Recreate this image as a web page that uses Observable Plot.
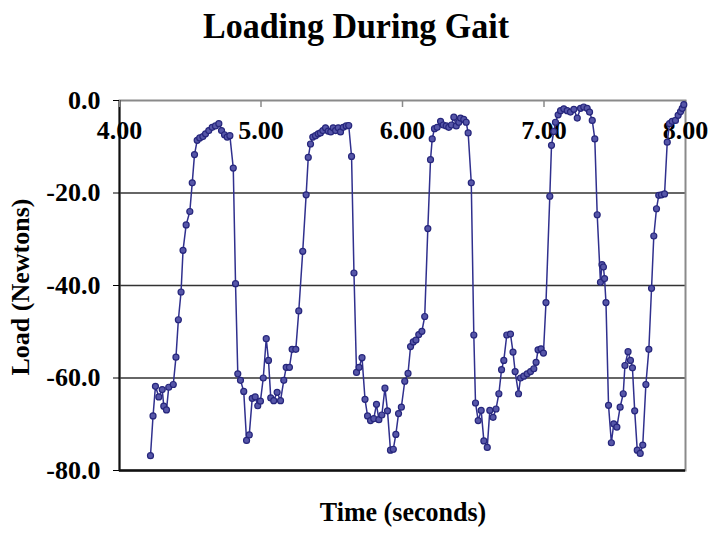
<!DOCTYPE html>
<html>
<head>
<meta charset="utf-8">
<script src="https://cdn.jsdelivr.net/npm/d3@7"></script>
<script src="https://cdn.jsdelivr.net/npm/@observablehq/plot@0.6"></script>
<style>
  html, body { margin: 0; padding: 0; background: #fff; }
  #wrap { position: relative; width: 716px; height: 536px; font-family: "Liberation Serif", "Times New Roman", serif; font-weight: bold; color: #000; }
  .lbl { position: absolute; white-space: nowrap; line-height: 1; transform: translate(-50%, -50%); }
  #title { left: 356px; top: 26px; font-size: 34px; transform: translate(-50%, -50%) scaleY(1.05); }
  #xlabel { left: 403px; top: 513px; font-size: 26px; transform: translate(-50%, -50%) scaleY(1.05); }
  #ylabel { left: 21px; top: 287px; font-size: 26px; transform: translate(-50%, -50%) rotate(-90deg) scaleY(1.0); }
  #chart { position: absolute; left: 0; top: 0; }
</style>
</head>
<body>
<div id="wrap">
  <div id="chart"></div>
  <div class="lbl" id="title">Loading During Gait</div>
  <div class="lbl" id="xlabel">Time (seconds)</div>
  <div class="lbl" id="ylabel">Load (Newtons)</div>
</div>
<script>
const title = "Loading During Gait";
const xTicks = [4, 5, 6, 7, 8];
const yTicks = [0, -20, -40, -60, -80];
const gridValues = [-20, -40, -60];

const time = [
  4.219, 4.237, 4.254, 4.278, 4.302, 4.313, 4.332, 4.348, 4.380, 4.399,
  4.416, 4.435, 4.449, 4.471, 4.497, 4.514, 4.530, 4.549, 4.567, 4.589,
  4.608, 4.631, 4.655, 4.678, 4.702, 4.721, 4.742, 4.761, 4.780, 4.804,
  4.820, 4.836, 4.855, 4.878, 4.898, 4.917, 4.938, 4.959, 4.977, 4.996,
  5.016, 5.037, 5.053, 5.069, 5.090, 5.114, 5.138, 5.161, 5.178, 5.201,
  5.220, 5.246, 5.267, 5.295, 5.319, 5.334, 5.350, 5.366, 5.385, 5.404,
  5.420, 5.437, 5.456, 5.475, 5.493, 5.510, 5.527, 5.546, 5.562, 5.581,
  5.602, 5.620, 5.640, 5.657, 5.675, 5.693, 5.714, 5.735, 5.753, 5.774,
  5.797, 5.816, 5.833, 5.854, 5.876, 5.894, 5.915, 5.935, 5.953, 5.972,
  5.992, 6.016, 6.039, 6.057, 6.076, 6.095, 6.115, 6.137, 6.157, 6.179,
  6.198, 6.210, 6.226, 6.245, 6.269, 6.288, 6.309, 6.327, 6.346, 6.363,
  6.380, 6.398, 6.410, 6.433, 6.450, 6.464, 6.486, 6.504, 6.516, 6.535,
  6.556, 6.575, 6.599, 6.617, 6.640, 6.661, 6.681, 6.700, 6.716, 6.737,
  6.763, 6.781, 6.796, 6.820, 6.834, 6.857, 6.881, 6.905, 6.928, 6.944,
  6.958, 6.979, 6.996, 7.014, 7.041, 7.053, 7.069, 7.081, 7.100, 7.117,
  7.140, 7.164, 7.187, 7.211, 7.235, 7.258, 7.281, 7.305, 7.322, 7.341,
  7.359, 7.376, 7.399, 7.410, 7.420, 7.428, 7.438, 7.456, 7.476, 7.493,
  7.515, 7.538, 7.560, 7.572, 7.594, 7.611, 7.625, 7.641, 7.659, 7.680,
  7.698, 7.720, 7.741, 7.760, 7.776, 7.795, 7.811, 7.830, 7.852, 7.871,
  7.887, 7.906, 7.929, 7.948, 7.965, 7.977, 7.988
];
const load = [
  -76.8, -68.2, -61.8, -64.1, -62.5, -66.1, -66.9, -62.0, -61.4, -55.5,
  -47.4, -41.4, -32.4, -26.9, -24.0, -17.8, -11.7, -8.6, -8.1, -7.8,
  -7.2, -6.5, -5.8, -5.5, -5.0, -6.5, -7.4, -7.9, -7.6, -14.6,
  -39.6, -59.1, -60.5, -62.9, -73.5, -72.3, -64.4, -64.1, -66.0, -65.0,
  -60.0, -51.5, -56.2, -64.3, -64.9, -63.1, -64.9, -60.5, -57.7, -57.7,
  -53.8, -53.8, -45.5, -32.6, -20.4, -12.3, -9.4, -7.9, -7.6, -7.2,
  -7.0, -6.5, -5.9, -6.6, -6.8, -5.9, -6.5, -5.9, -6.8, -5.8,
  -5.5, -5.4, -12.1, -37.3, -58.8, -57.7, -55.6, -64.6, -68.2, -69.2,
  -68.8, -65.7, -69.0, -68.0, -62.2, -67.1, -75.6, -75.4, -72.2, -67.7,
  -66.3, -60.7, -59.0, -53.2, -52.2, -51.8, -50.6, -49.9, -46.7, -27.7,
  -12.8, -8.3, -6.1, -5.8, -4.5, -5.3, -5.5, -5.8, -5.3, -3.6,
  -5.5, -4.7, -3.8, -4.1, -4.7, -7.0, -17.8, -50.7, -65.4, -69.2,
  -67.0, -73.6, -75.0, -67.0, -68.5, -66.7, -63.4, -58.2, -56.2, -50.7,
  -50.5, -54.4, -58.6, -63.4, -60.0, -59.6, -59.1, -58.6, -58.0, -56.6,
  -53.9, -53.7, -54.6, -43.7, -20.7, -9.7, -6.7, -4.7, -3.1, -2.2,
  -1.8, -2.2, -2.5, -1.9, -3.8, -1.7, -1.4, -1.7, -2.5, -4.3,
  -8.3, -24.7, -39.3, -35.5, -36.0, -38.5, -43.7, -65.9, -74.0, -69.9,
  -70.6, -66.3, -63.4, -57.3, -54.3, -56.2, -57.8, -67.1, -75.6, -76.3,
  -74.5, -61.4, -53.8, -40.6, -29.3, -23.4, -20.5, -20.4, -20.2, -9.0,
  -5.0, -4.5, -4.3, -3.2, -2.4, -1.7, -0.9
];

const data = time.map((t, i) => ({t, v: load[i]}));

const W = 716, H = 536, mT = 100, mB = 66, mL = 119, mR = 31;

const chart = Plot.plot({
  width: W,
  height: H,
  marginTop: mT,
  marginBottom: mB,
  marginLeft: mL,
  marginRight: mR,
  style: {fontFamily: "'Liberation Serif', 'Times New Roman', serif", fontSize: "26px", fontWeight: "bold", background: "#fff", color: "#000"},
  x: {domain: [4, 8], axis: null},
  y: {domain: [-80, 0], axis: null},
  marks: [
    Plot.ruleY(gridValues, {stroke: "#333", strokeWidth: 1.6}),
    Plot.frame({stroke: "#8a8a8a", strokeWidth: 2}),
    Plot.ruleX([4], {stroke: "#111", strokeWidth: 2}),
    Plot.ruleY([-80], {stroke: "#111", strokeWidth: 2.5}),
    Plot.tickX(xTicks, {x: d => d, stroke: "#8a8a8a", strokeWidth: 1.5, insetBottom: H - mT - mB - 7}),
    Plot.axisY({ticks: yTicks, tickSize: 6, tickPadding: 13, tickFormat: d => d.toFixed(1), label: null, fontSize: 26}),
    Plot.text(xTicks, {x: d => d, frameAnchor: "top", dy: 30, text: d => d.toFixed(2), lineAnchor: "middle", fontSize: 26}),
    Plot.line(data, {x: "t", y: "v", stroke: "#30308e", strokeWidth: 1.5}),
    Plot.dot(data, {x: "t", y: "v", r: 3, stroke: "#26267c", strokeWidth: 1.2, fill: "#5656a8"})
  ]
});
document.getElementById("chart").appendChild(chart);
</script>
</body>
</html>
